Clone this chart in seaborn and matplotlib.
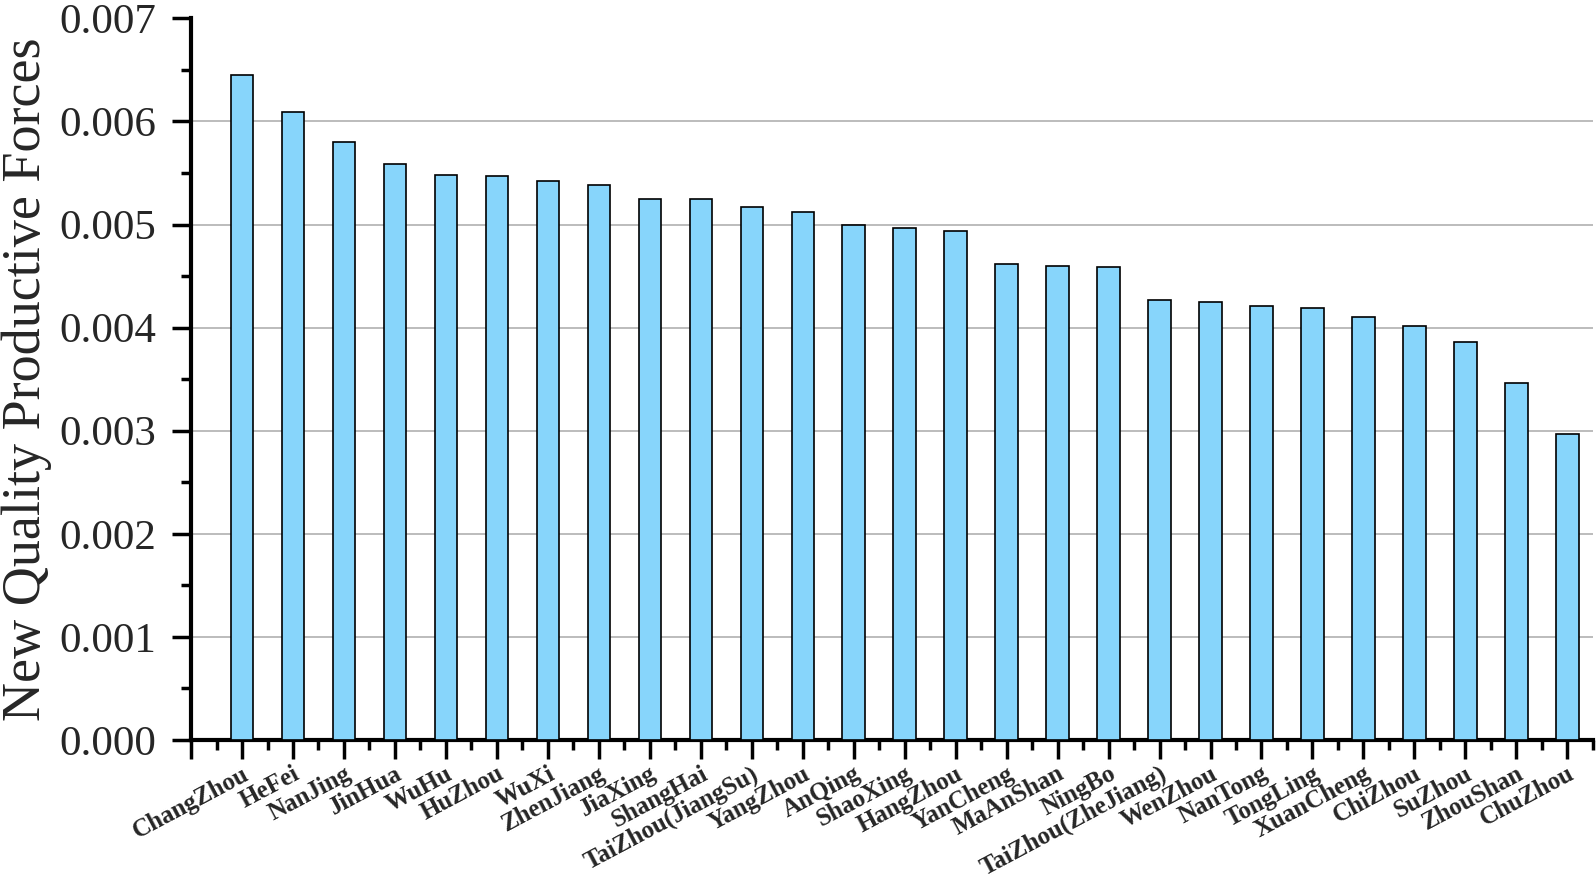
import numpy as np
import pandas as pd
import matplotlib
matplotlib.use('Agg')
import matplotlib.pyplot as plt
import matplotlib.transforms as mtrans
import seaborn as sns
from matplotlib.ticker import MultipleLocator, FixedLocator

# ---- data ----
cities = ['ChangZhou', 'HeFei', 'NanJing', 'JinHua', 'WuHu', 'HuZhou', 'WuXi',
          'ZhenJiang', 'JiaXing', 'ShangHai', 'TaiZhou(JiangSu)', 'YangZhou',
          'AnQing', 'ShaoXing', 'HangZhou', 'YanCheng', 'MaAnShan', 'NingBo',
          'TaiZhou(ZheJiang)', 'WenZhou', 'NanTong', 'TongLing', 'XuanCheng',
          'ChiZhou', 'SuZhou', 'ZhouShan', 'ChuZhou']
nqpf = [0.00645, 0.00609, 0.00580, 0.00559, 0.00548, 0.00547, 0.00542,
        0.00538, 0.00525, 0.00525, 0.00517, 0.00512,
        0.00500, 0.00497, 0.00494, 0.00462, 0.00460, 0.00459,
        0.00427, 0.00425, 0.00421, 0.00419, 0.00410,
        0.00402, 0.00386, 0.00346, 0.00297]
y_ticks = [0.000, 0.001, 0.002, 0.003, 0.004, 0.005, 0.006, 0.007]

BAR = '#87D5FB'

sns.set_style('white')
plt.rcParams['font.family'] = ['Liberation Serif', 'DejaVu Serif']

df = pd.DataFrame({'city': cities, 'value': nqpf})

fig = plt.figure(figsize=(15.96, 8.88), dpi=100)
ax = fig.add_axes([0.1197, 0.1667, 0.8783, 0.8126])

sns.barplot(data=df, x='city', y='value', color=BAR, width=0.44,
            edgecolor='black', linewidth=1.2, saturation=1, ax=ax, zorder=3)

ax.set_xlim(-1, len(cities) - 0.5)
ax.set_ylim(0, 0.007)

# horizontal grid (none at the very top)
for t in y_ticks[1:-1]:
    ax.axhline(t, color='#b0b0b0', lw=1.2, zorder=0)

# spines
for s in ['top', 'right']:
    ax.spines[s].set_visible(False)
for s in ['left', 'bottom']:
    ax.spines[s].set_linewidth(3)
    ax.spines[s].set_color('black')

# y ticks
ax.set_yticks(y_ticks)
ax.set_yticklabels([f'{t:.3f}' for t in y_ticks], fontsize=31)
ax.yaxis.set_minor_locator(MultipleLocator(0.0005))

# x ticks: majors at bars (plus the left edge), minors in between
ax.xaxis.set_major_locator(FixedLocator(list(range(-1, len(cities)))))
ax.set_xticklabels([''] + cities, fontsize=18, fontweight='bold',
                   rotation=28, ha='right', va='top', rotation_mode='anchor')
ax.xaxis.set_minor_locator(FixedLocator(np.arange(-0.5, len(cities), 1.0)))
shift = mtrans.ScaledTranslation(0.09, 0, fig.dpi_scale_trans)
for lab in ax.get_xticklabels():
    lab.set_transform(lab.get_transform() + shift)

ax.tick_params(axis='both', which='major', direction='out', length=14,
               width=2.5, color='black', left=True, bottom=True)
ax.tick_params(axis='both', which='minor', direction='out', length=7,
               width=2.5, color='black', left=True, bottom=True)
ax.tick_params(axis='x', which='major', pad=2)
ax.tick_params(axis='y', which='major', pad=11)

ax.set_xlabel('')
ax.set_ylabel('New Quality Productive Forces', fontsize=39)
ax.yaxis.set_label_coords(-0.099, 0.5)

fig.savefig('out.png', dpi=100, facecolor='white')
